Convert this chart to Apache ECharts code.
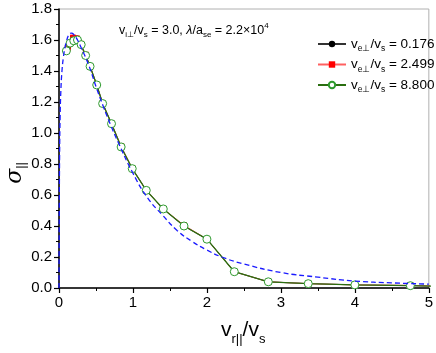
<!DOCTYPE html>
<html lang="en">
<head>
    <meta charset="UTF-8">
    <title>sigma</title>
    <style>
        html, body { margin: 0; padding: 0; background: #fff; }
    </style>
</head>
<body>
<div id="main" style="width: 436px;height:353px;"></div>
<script src="https://cdn.jsdelivr.net/npm/echarts@6/dist/echarts.min.js"></script>
<script type="text/javascript">
    // simulation points, three electron temperatures
    var xBlack = [0.12, 0.19, 0.24, 0.29, 0.36, 0.42, 0.51, 0.59, 0.71, 0.84, 0.99, 1.18, 1.41, 1.69, 2.0, 2.37, 2.83, 3.37, 4.0, 4.75, 5.3];
    var yBlack = [1.55, 1.615, 1.61, 1.57, 1.50, 1.43, 1.31, 1.19, 1.06, 0.91, 0.77, 0.63, 0.51, 0.40, 0.315, 0.105, 0.04, 0.028, 0.02, 0.015, 0.01];
    var xRed = [0.12, 0.19, 0.24, 0.29, 0.36, 0.42, 0.51, 0.59, 0.71, 0.84, 0.99, 1.18, 1.41, 1.69, 2.0, 2.37, 2.83, 3.37, 4.0, 4.75, 5.3];
    var yRed = [1.55, 1.615, 1.61, 1.575, 1.505, 1.43, 1.31, 1.19, 1.06, 0.915, 0.77, 0.63, 0.51, 0.405, 0.315, 0.105, 0.04, 0.028, 0.02, 0.017, 0.01];
    var xGreen = [0.1, 0.15, 0.2, 0.25, 0.3, 0.36, 0.42, 0.51, 0.59, 0.71, 0.84, 0.99, 1.18, 1.41, 1.69, 2.0, 2.37, 2.83, 3.37, 4.0, 4.75, 5.3];
    var yGreen = [1.53, 1.58, 1.595, 1.60, 1.57, 1.50, 1.43, 1.31, 1.19, 1.06, 0.91, 0.77, 0.63, 0.51, 0.40, 0.315, 0.105, 0.04, 0.028, 0.02, 0.015, 0.01];
    // theory curve (dashed)
    var xTheory = [0, 0.004, 0.008, 0.015, 0.025, 0.04, 0.06, 0.08, 0.1, 0.13, 0.17, 0.2, 0.25, 0.3, 0.4, 0.5, 0.6, 0.7, 0.8, 1.0, 1.2, 1.4, 1.6, 1.8, 2.0, 2.2, 2.5, 3.0, 3.5, 4.0, 4.5, 5.0];
    var yTheory = [0, 0.5, 0.85, 1.1, 1.27, 1.4, 1.49, 1.55, 1.59, 1.63, 1.645, 1.635, 1.6, 1.55, 1.44, 1.3, 1.17, 1.05, 0.94, 0.74, 0.58, 0.47, 0.37, 0.3, 0.245, 0.2, 0.155, 0.1, 0.07, 0.045, 0.033, 0.025];

    var legendNames = ['0.176', '2.499', '8.800'];
    var xTicks = [0, 1, 2, 3, 4, 5];

    var fam = 'Liberation Sans, Arial, sans-serif';

    function pairs(xs, ys) {
        var out = [];
        for (var i = 0; i < xs.length; i++) out.push([xs[i], ys[i]]);
        return out;
    }

    var myChart = echarts.init(document.getElementById('main'));

    var option = {
        animation: false,
        backgroundColor: '#fff',
        grid: { left: 59, right: 4, top: 9, bottom: 65, show: true, borderColor: '#b0b0b0', borderWidth: 1 },
        legend: {
            orient: 'vertical',
            left: 312,
            top: 32,
            itemWidth: 28,
            itemHeight: 8,
            itemGap: 4,
            data: legendNames,
            textStyle: {
                fontFamily: fam, fontSize: 13.5, color: '#000',
                rich: {
                    n: { fontFamily: fam, fontSize: 13.5, color: '#000' },
                    s: { fontFamily: fam, fontSize: 8.5, color: '#000', padding: [10, 0, 0, 0] }
                }
            },
            formatter: function (name) {
                return '{n|v}{s|e⊥}{n|/v}{s|s}{n| = ' + name + '}';
            }
        },
        xAxis: {
            type: 'value', min: 0, max: 5, interval: 1,
            axisLine: { lineStyle: { color: '#000', width: 1.5 } },
            axisTick: { inside: false, length: 5, lineStyle: { color: '#000', width: 1.2 } },
            minorTick: { show: true, splitNumber: 2, length: 3, lineStyle: { color: '#000', width: 1 } },
            splitLine: { show: false },
            axisLabel: { color: '#000', fontFamily: fam, fontSize: 15, margin: 7,
                formatter: function (v) { return xTicks.indexOf(v) >= 0 ? String(v) : ''; } }
        },
        yAxis: {
            type: 'value', min: 0, max: 1.8, interval: 0.2,
            axisLine: { show: true, lineStyle: { color: '#000', width: 1.5 } },
            axisTick: { show: true, inside: false, length: 5, lineStyle: { color: '#000', width: 1.2 } },
            minorTick: { show: true, splitNumber: 2, length: 3, lineStyle: { color: '#000', width: 1 } },
            splitLine: { show: false },
            axisLabel: { color: '#000', fontFamily: fam, fontSize: 15, margin: 7,
                formatter: function (v) { return v.toFixed(1); } }
        },
        graphic: [
            {
                type: 'text', left: 119, top: 22,
                style: {
                    text: '{n|v}{s|i⊥}{n|/v}{s|s}{n| = 3.0, }{i|λ}{n|/a}{s|se}{n| = 2.2×10}{p|4}',
                    rich: {
                        n: { fontFamily: fam, fontSize: 12.5, fill: '#000' },
                        i: { fontFamily: fam, fontSize: 12.5, fontStyle: 'italic', fill: '#000' },
                        s: { fontFamily: fam, fontSize: 8, fill: '#000', padding: [9, 0, 0, 0] },
                        p: { fontFamily: fam, fontSize: 8, fill: '#000', padding: [0, 0, 9, 0] }
                    }
                }
            },
            {
                type: 'text', left: 4, top: 162, rotation: Math.PI / 2,
                style: {
                    text: '{g|σ}{s|||}',
                    rich: {
                        g: { fontFamily: 'DejaVu Serif, serif', fontSize: 22, fontStyle: 'italic', fill: '#000' },
                        s: { fontFamily: fam, fontSize: 13, fill: '#000', padding: [12, 0, 0, 0] }
                    }
                }
            },
            {
                type: 'text', left: 221, top: 320,
                style: {
                    text: '{n|v}{s|r||}{n|/v}{s|s}',
                    rich: {
                        n: { fontFamily: fam, fontSize: 21, fill: '#000' },
                        s: { fontFamily: fam, fontSize: 13, fill: '#000', padding: [17, 0, 0, 0] }
                    }
                }
            }
        ],
        series: [
            {
                name: 'theory', type: 'line', data: pairs(xTheory, yTheory),
                showSymbol: false, symbol: 'none', smooth: true,
                lineStyle: { color: '#1a1aff', width: 1.3, type: [5, 3] }, z: 5
            },
            {
                name: legendNames[0], type: 'line', data: pairs(xBlack, yBlack),
                symbol: 'circle', symbolSize: 6,
                itemStyle: { color: '#000' },
                lineStyle: { color: '#333', width: 1 }, z: 2
            },
            {
                name: legendNames[1], type: 'line', data: pairs(xRed, yRed),
                symbol: 'rect', symbolSize: 6,
                itemStyle: { color: '#ff0000' },
                lineStyle: { color: '#ff6060', width: 1 }, z: 3
            },
            {
                name: legendNames[2], type: 'line', data: pairs(xGreen, yGreen),
                symbol: 'circle', symbolSize: 8,
                itemStyle: { color: '#fff', borderColor: '#2e9a2e', borderWidth: 1 },
                lineStyle: { color: '#2a6e10', width: 1.3 }, z: 4
            }
        ]
    };

    myChart.setOption(option);
</script>
</body>
</html>
